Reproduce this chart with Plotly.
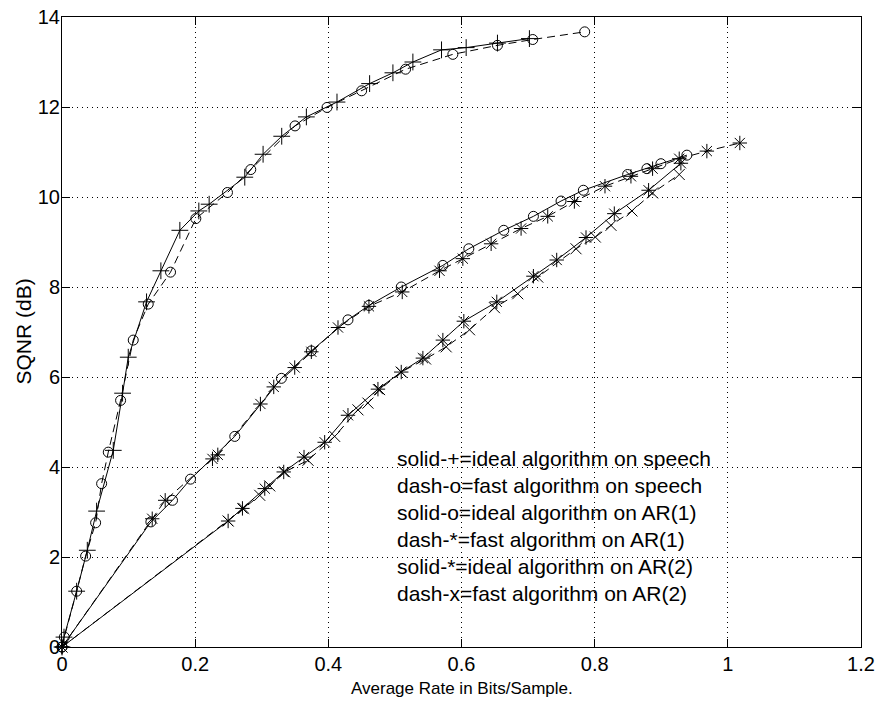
import plotly.graph_objects as go

# Speech, ideal algorithm (solid, +)
speech_ideal_x = [0, 0.003, 0.022, 0.038, 0.052, 0.077, 0.091, 0.0995, 0.127, 0.1485, 0.177, 0.2055,
                  0.221, 0.2745, 0.302, 0.33, 0.367, 0.413, 0.462, 0.497, 0.527, 0.570, 0.607, 0.654, 0.702]
speech_ideal_y = [0, 0.22, 1.24, 2.15, 3.02, 4.37, 5.64, 6.44, 7.67, 8.36, 9.26, 9.69,
                  9.84, 10.44, 10.95, 11.35, 11.78, 12.11, 12.52, 12.76, 13.0, 13.27, 13.32, 13.42, 13.52]

# Speech, fast algorithm (dashed, o)
speech_fast_x = [0, 0.0035, 0.022, 0.0355, 0.0505, 0.0595, 0.0695, 0.088, 0.107, 0.1295, 0.163, 0.201,
                 0.2485, 0.2835, 0.35, 0.398, 0.45, 0.516, 0.587, 0.654, 0.707, 0.785]
speech_fast_y = [0, 0.22, 1.24, 2.02, 2.76, 3.63, 4.33, 5.48, 6.82, 7.62, 8.33, 9.52,
                 10.1, 10.61, 11.58, 11.99, 12.36, 12.84, 13.17, 13.37, 13.5, 13.67]

# AR(1), ideal algorithm (solid, o)
ar1_ideal_x = [0, 0.1335, 0.166, 0.193, 0.2595, 0.3295, 0.3745, 0.4295, 0.461, 0.5095, 0.572, 0.611,
               0.6635, 0.708, 0.7495, 0.783, 0.8495, 0.8785, 0.8995, 0.9385]
ar1_ideal_y = [0, 2.78, 3.26, 3.73, 4.68, 5.97, 6.58, 7.27, 7.59, 8.0, 8.48, 8.85,
               9.26, 9.57, 9.91, 10.15, 10.5, 10.63, 10.74, 10.93]

# AR(1), fast algorithm (dashed, *)
ar1_fast_x = [0, 0.1355, 0.155, 0.226, 0.234, 0.298, 0.318, 0.3495, 0.3745, 0.4145, 0.461, 0.511,
              0.567, 0.602, 0.6445, 0.6895, 0.7295, 0.7695, 0.8155, 0.8545, 0.887, 0.927, 0.9685, 1.018]
ar1_fast_y = [0, 2.85, 3.26, 4.18, 4.27, 5.40, 5.78, 6.21, 6.56, 7.10, 7.57, 7.89,
              8.36, 8.63, 8.96, 9.30, 9.57, 9.90, 10.24, 10.46, 10.63, 10.85, 11.02, 11.2]

# AR(2), ideal algorithm (solid, *)
ar2_ideal_x = [0, 0.2495, 0.271, 0.3045, 0.333, 0.3635, 0.3945, 0.4295, 0.4745, 0.5095, 0.542, 0.572,
               0.6035, 0.653, 0.708, 0.743, 0.787, 0.8295, 0.881, 0.9295]
ar2_ideal_y = [0, 2.80, 3.08, 3.52, 3.89, 4.22, 4.55, 5.15, 5.73, 6.11, 6.42, 6.82,
               7.24, 7.67, 8.24, 8.60, 9.10, 9.63, 10.15, 10.75]

# AR(2), fast algorithm (dashed, x)
ar2_fast_x = [0, 0.2495, 0.273, 0.297, 0.312, 0.3345, 0.3695, 0.4095, 0.4445, 0.4595, 0.477, 0.5095,
              0.546, 0.577, 0.612, 0.6495, 0.6845, 0.7145, 0.772, 0.801, 0.8245, 0.856, 0.887, 0.927]
ar2_fast_y = [0, 2.80, 3.08, 3.37, 3.58, 3.89, 4.15, 4.68, 5.27, 5.42, 5.72, 6.11,
              6.40, 6.67, 7.05, 7.54, 7.85, 8.22, 8.85, 9.11, 9.37, 9.69, 10.09, 10.50]

notes = ["solid-+=ideal algorithm on speech",
         "dash-o=fast algorithm on speech",
         "solid-o=ideal algorithm on AR(1)",
         "dash-*=fast algorithm on AR(1)",
         "solid-*=ideal algorithm on AR(2)",
         "dash-x=fast algorithm on AR(2)"]
note_x = 0.5
note_y = [4.2, 3.6, 3.0, 2.4, 1.8, 1.2]

x_ticks = [0, 0.2, 0.4, 0.6, 0.8, 1, 1.2]
y_ticks = [0, 2, 4, 6, 8, 10, 12, 14]
x_title = "Average Rate in Bits/Sample."
y_title = "SQNR (dB)"

FONT = "Liberation Sans, Arial, Helvetica, sans-serif"
DASH = "8px,5px"

FIG_W, FIG_H = 881, 704
M_L, M_R, M_T, M_B = 62, 20, 17, 57
PLOT_W = FIG_W - M_L - M_R
PLOT_H = FIG_H - M_T - M_B

series = [
    (speech_ideal_x, speech_ideal_y, "solid", "cross-thin-open", 12),
    (speech_fast_x, speech_fast_y, DASH, "circle-open", 10),
    (ar1_ideal_x, ar1_ideal_y, "solid", "circle-open", 10),
    (ar1_fast_x, ar1_fast_y, DASH, "asterisk-open", 12),
    (ar2_ideal_x, ar2_ideal_y, "solid", "asterisk-open", 12),
    (ar2_fast_x, ar2_fast_y, DASH, "x-thin-open", 11),
]

fig = go.Figure()
for xs, ys, dash, sym, sz in series:
    fig.add_trace(go.Scatter(
        x=xs, y=ys, mode="lines+markers",
        line=dict(color="black", width=1, dash=dash),
        marker=dict(symbol=sym, size=sz, color="black", line=dict(color="black", width=1)),
        cliponaxis=False, showlegend=False, hoverinfo="skip",
    ))

for t, yv in zip(notes, note_y):
    fig.add_annotation(x=note_x, y=yv, text=t, showarrow=False, xanchor="left", yanchor="middle",
                       font=dict(family=FONT, size=21, color="black"))

# axis titles placed as paper-referenced annotations
fig.add_annotation(x=0.5, y=-41 / PLOT_H, xref="paper", yref="paper", text=x_title, showarrow=False,
                   xanchor="center", yanchor="middle", font=dict(family=FONT, size=17, color="black"))
fig.add_annotation(x=-39.5 / PLOT_W, y=0.5, xref="paper", yref="paper", text=y_title, showarrow=False,
                   textangle=-90, xanchor="center", yanchor="middle",
                   font=dict(family=FONT, size=21, color="black"))

axis_common = dict(
    showline=True, linecolor="black", linewidth=1, mirror="ticks",
    ticks="inside", ticklen=8, tickwidth=1, tickcolor="black",
    showgrid=True, gridcolor="black", gridwidth=1, griddash="1px,4px",
    zeroline=False, automargin=False, ticklabeloverflow="allow",
    tickfont=dict(family=FONT, size=20, color="black"),
)

fig.update_xaxes(range=[0, 1.2], tickvals=x_ticks, ticklabelstandoff=-1, **axis_common)
fig.update_yaxes(range=[0, 14], tickvals=y_ticks, ticklabelstandoff=-3, **axis_common)

fig.update_layout(
    width=FIG_W, height=FIG_H,
    margin=dict(l=M_L, r=M_R, t=M_T, b=M_B),
    paper_bgcolor="white", plot_bgcolor="white",
    font=dict(family=FONT, color="black"),
    hovermode=False,
)

# remove the browser's default 8px body margin so the figure fills the window
fig.write_html("out.html",
               config={"displayModeBar": False, "staticPlot": True},
               post_script="document.body.style.margin='0';document.body.style.overflow='hidden';")
